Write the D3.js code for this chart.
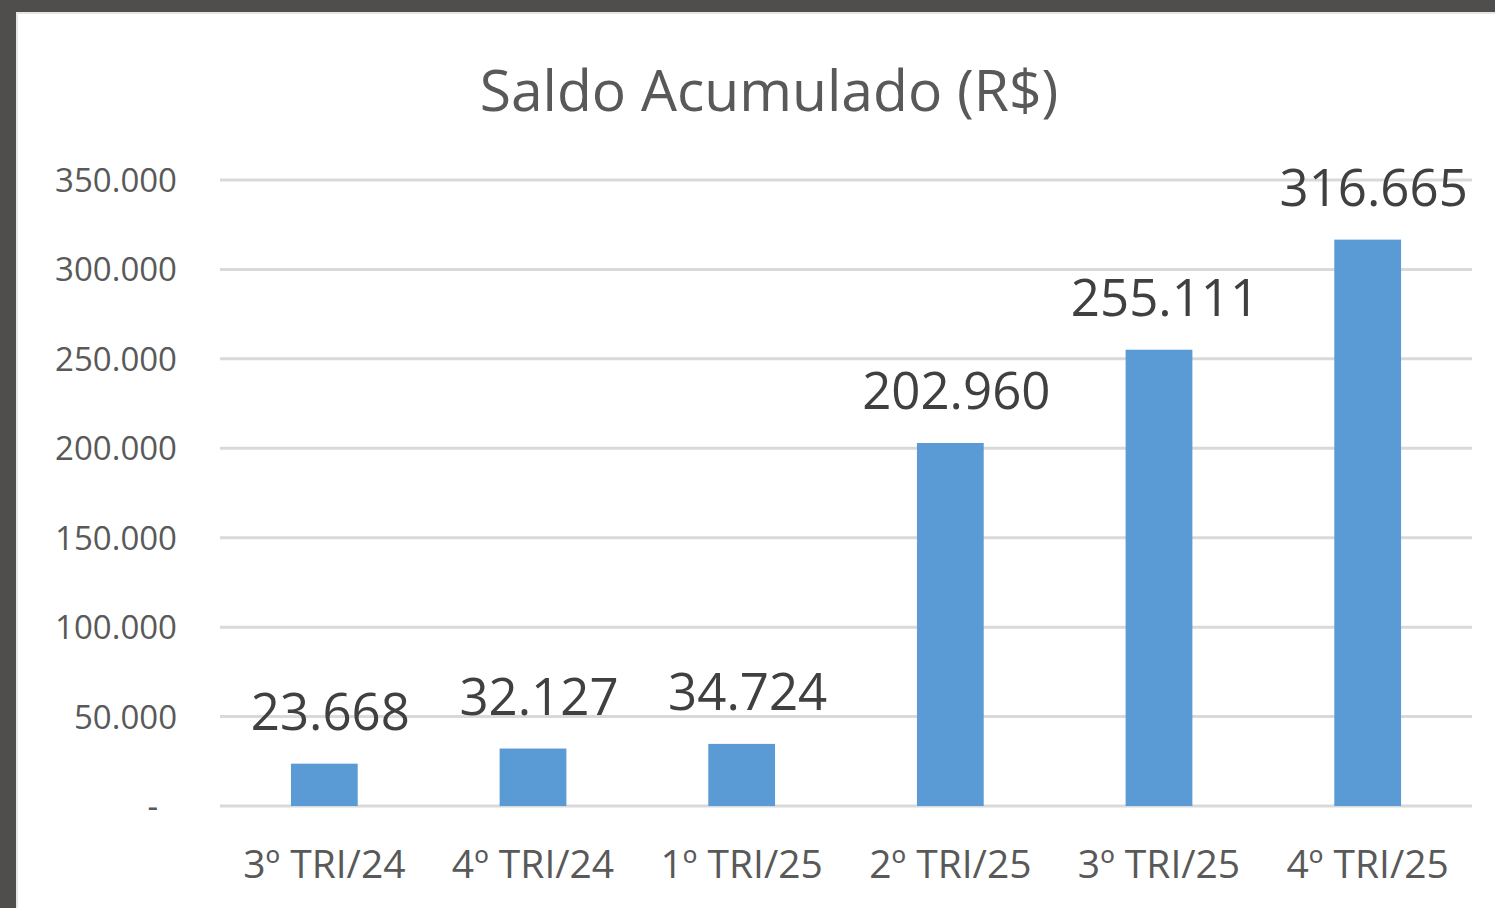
<!DOCTYPE html>
<html>
<head>
<meta charset="utf-8">
<script src="https://cdn.jsdelivr.net/npm/d3@7"></script>
<style>
  html, body { margin: 0; padding: 0; background: #4f4e4c; }
  #sheet {
    position: absolute; left: 16px; top: 12px;
    width: 1477px; height: 894px;
    background: #ffffff;
    border-left: 2px solid #e6e6e6;
    border-top: 2px solid #e6e6e6;
  }
  #chart { position: absolute; left: 0; top: 0; width: 1495px; height: 908px; }
  svg { display: block; overflow: visible; }
</style>
</head>
<body>
<div id="sheet"></div>
<div id="chart"></div>
<script>
// Chart data
const quarters = ['3º TRI/24', '4º TRI/24', '1º TRI/25', '2º TRI/25', '3º TRI/25', '4º TRI/25'];
const saldo = [23668, 32127, 34724, 202960, 255111, 316665];
const yTicks = [0, 50000, 100000, 150000, 200000, 250000, 300000, 350000];
const chartTitle = 'Saldo Acumulado (R$)';

const width = 1495;
const height = 908;
const margin = { top: 180, right: 23, bottom: 102, left: 220 };

const fmt = v => v === 0 ? '-' : d3.format(',')(v).replace(/,/g, '.');

const svg = d3.select('#chart')
  .append('svg')
  .attr('width', width)
  .attr('height', height);

// Scales (absolute page coordinates)
const xScale = d3.scaleBand()
  .domain(quarters)
  .range([margin.left, width - margin.right])
  .padding(0);

const yScale = d3.scaleLinear()
  .domain([0, 350000])
  .range([height - margin.bottom, margin.top]);

const font = '"Open Sans", sans-serif';

// Title
svg.append('text')
  .attr('x', 769)
  .attr('y', 111)
  .attr('text-anchor', 'middle')
  .style('font-family', font)
  .style('font-size', '57px')
  .style('fill', '#595959')
  .text(chartTitle);

// Gridlines
svg.append('g').selectAll('line')
  .data(yTicks)
  .enter()
  .append('line')
  .attr('x1', margin.left)
  .attr('x2', width - margin.right)
  .attr('y1', d => yScale(d))
  .attr('y2', d => yScale(d))
  .attr('stroke', '#d9d9d9')
  .attr('stroke-width', 3);

// Y axis labels
svg.append('g').selectAll('text')
  .data(yTicks)
  .enter()
  .append('text')
  .attr('x', d => margin.left - (d === 0 ? 62 : 43))
  .attr('y', d => yScale(d) + 12)
  .attr('text-anchor', 'end')
  .style('font-family', font)
  .style('font-size', '33px')
  .style('fill', '#595959')
  .text(fmt);

// Bars
const barW = xScale.bandwidth() * 0.32;
svg.append('g').selectAll('rect')
  .data(saldo)
  .enter()
  .append('rect')
  .attr('x', (d, i) => xScale(quarters[i]) + xScale.bandwidth() / 2 - barW / 2)
  .attr('y', d => yScale(d))
  .attr('width', barW)
  .attr('height', d => yScale(0) - yScale(d))
  .attr('fill', '#5b9bd5');

// Value labels
svg.append('g').selectAll('text')
  .data(saldo)
  .enter()
  .append('text')
  .attr('x', (d, i) => xScale(quarters[i]) + xScale.bandwidth() / 2 + 6)
  .attr('y', d => yScale(d) - 34)
  .attr('text-anchor', 'middle')
  .style('font-family', font)
  .style('font-size', '51px')
  .style('fill', '#404040')
  .text(fmt);

// X labels
svg.append('g').selectAll('text')
  .data(quarters)
  .enter()
  .append('text')
  .attr('x', d => xScale(d) + xScale.bandwidth() / 2)
  .attr('y', yScale(0) + 72)
  .attr('text-anchor', 'middle')
  .style('font-family', font)
  .style('font-size', '39px')
  .style('fill', '#595959')
  .text(d => d);
</script>
</body>
</html>
